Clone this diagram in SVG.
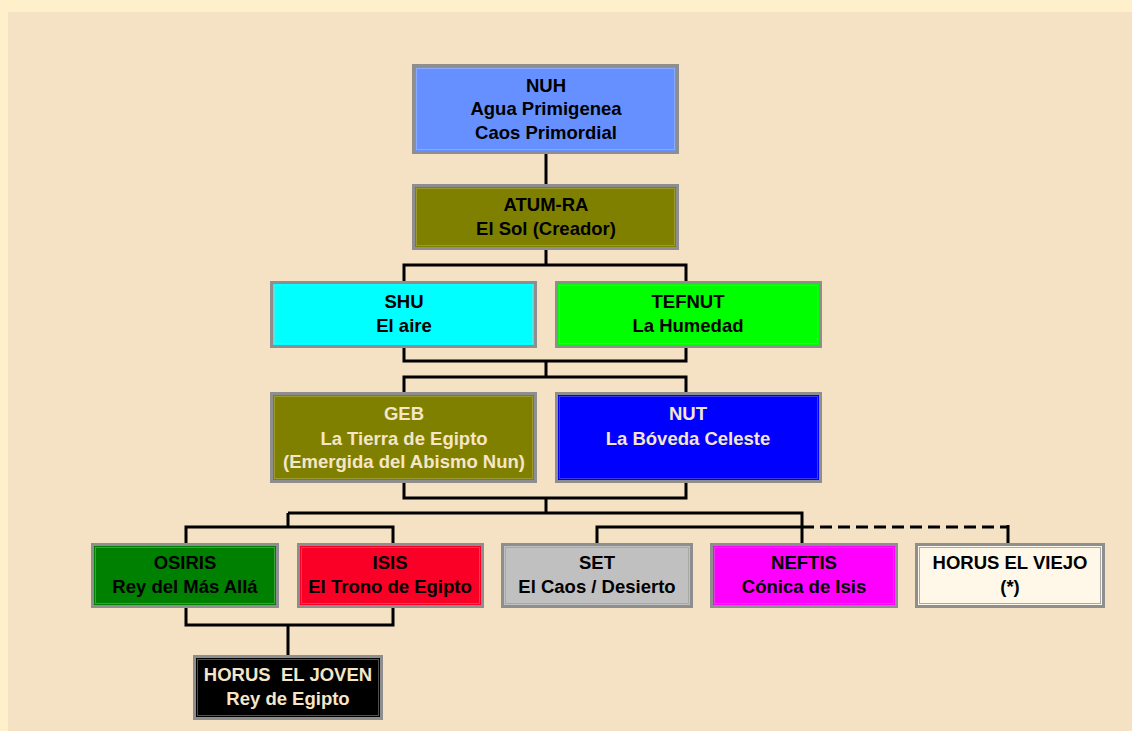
<svg xmlns="http://www.w3.org/2000/svg" width="1132" height="731" viewBox="0 0 1132 731">
<style>
.box{stroke:#8E8E8E;stroke-width:3}
.in{fill:none;stroke-width:1}
text{font-family:"Liberation Sans",Arial,sans-serif;font-weight:bold;font-size:18.5px;text-anchor:middle;fill:#000}
.lt{fill:#F5E6C8}
.ln{fill:none;stroke:#000;stroke-width:3}
.dash{stroke-dasharray:12 6}
</style>
<rect x="0" y="0" width="1132" height="731" fill="#FFF0CC"/>
<rect x="8" y="12" width="1124" height="719" fill="#F5E1C4"/>
<g id="connectors">
<path class="ln" d="M546 153V184"/>
<path class="ln" d="M546 249V265M404 281V265H686V281"/>
<path class="ln" d="M404 347V361H686V347M546 361V377M404 392V377H686V392"/>
<path class="ln" d="M404 482V498H686V482M546 498V513M288 513H802V543"/>
<path class="ln" d="M288 513V527M186 543V527H393V543"/>
<path class="ln" d="M597 543V527H802"/>
<path class="ln dash" d="M802 527H1008"/>
<path class="ln" d="M1008 525V543"/>
<path class="ln" d="M186 607V625H393V607M288 625V655"/>
</g>
<g id="nuh">
<rect class="box" x="413.5" y="65.5" width="264" height="87" fill="#6690FF"/>
<rect class="in" x="416.5" y="68.5" width="258" height="81" stroke="#88AAFF"/>
<text x="546" y="92">NUH</text>
<text x="546" y="115">Agua Primigenea</text>
<text x="546" y="139">Caos Primordial</text>
</g>
<g id="atumra">
<rect class="box" x="413.5" y="185.5" width="264" height="63" fill="#808000"/>
<rect class="in" x="416.5" y="188.5" width="258" height="57" stroke="#9A9A30"/>
<text x="546" y="211">ATUM-RA</text>
<text x="546" y="235">El Sol (Creador)</text>
</g>
<g id="shu">
<rect class="box" x="271.5" y="282.5" width="264" height="64" fill="#00FFFF"/>
<rect class="in" x="274.5" y="285.5" width="258" height="58" stroke="#50E8E8"/>
<text x="404" y="308">SHU</text>
<text x="404" y="332">El aire</text>
</g>
<g id="tefnut">
<rect class="box" x="556.5" y="282.5" width="264" height="64" fill="#00FF00"/>
<rect class="in" x="559.5" y="285.5" width="258" height="58" stroke="#50E850"/>
<text x="688" y="308">TEFNUT</text>
<text x="688" y="332">La Humedad</text>
</g>
<g id="geb">
<rect class="box" x="271.5" y="393.5" width="264" height="88" fill="#808000"/>
<rect class="in" x="274.5" y="396.5" width="258" height="82" stroke="#9A9A30"/>
<text class="lt" x="404" y="420">GEB</text>
<text class="lt" x="404" y="445">La Tierra de Egipto</text>
<text class="lt" x="404" y="468">(Emergida del Abismo Nun)</text>
</g>
<g id="nut">
<rect class="box" x="556.5" y="393.5" width="264" height="88" fill="#0000FF"/>
<rect class="in" x="559.5" y="396.5" width="258" height="82" stroke="#3A3AE8"/>
<text class="lt" x="688" y="420">NUT</text>
<text class="lt" x="688" y="445">La Bóveda Celeste</text>
</g>
<g id="osiris">
<rect class="box" x="92.5" y="544.5" width="185" height="62" fill="#008000"/>
<rect class="in" x="95.5" y="547.5" width="179" height="56" stroke="#40A040"/>
<text x="185" y="569">OSIRIS</text>
<text x="185" y="593">Rey del Más Allá</text>
</g>
<g id="isis">
<rect class="box" x="298.5" y="544.5" width="184" height="62" fill="#FA0026"/>
<rect class="in" x="301.5" y="547.5" width="178" height="56" stroke="#F04060"/>
<text x="390" y="569">ISIS</text>
<text x="390" y="593">El Trono de Egipto</text>
</g>
<g id="set">
<rect class="box" x="502.5" y="544.5" width="189" height="62" fill="#C0C0C0"/>
<rect class="in" x="505.5" y="547.5" width="183" height="56" stroke="#A8A8A8"/>
<text x="597" y="569">SET</text>
<text x="597" y="593">El Caos / Desierto</text>
</g>
<g id="neftis">
<rect class="box" x="711.5" y="544.5" width="185" height="62" fill="#FF00FF"/>
<rect class="in" x="714.5" y="547.5" width="179" height="56" stroke="#E040E0"/>
<text x="804" y="569">NEFTIS</text>
<text x="804" y="593">Cónica de Isis</text>
</g>
<g id="horus-viejo">
<rect class="box" x="916.5" y="544.5" width="187" height="62" fill="#FFF8E8"/>
<rect class="in" x="919.5" y="547.5" width="181" height="56" stroke="#A8A8A8"/>
<text x="1010" y="569">HORUS EL VIEJO</text>
<text x="1010" y="593">(*)</text>
</g>
<g id="horus-joven">
<rect class="box" x="194.5" y="656.5" width="187" height="62" fill="#000000"/>
<rect class="in" x="197.5" y="659.5" width="181" height="56" stroke="#505050"/>
<text class="lt" x="288" y="681" xml:space="preserve">HORUS  EL JOVEN</text>
<text class="lt" x="288" y="705">Rey de Egipto</text>
</g>
</svg>
